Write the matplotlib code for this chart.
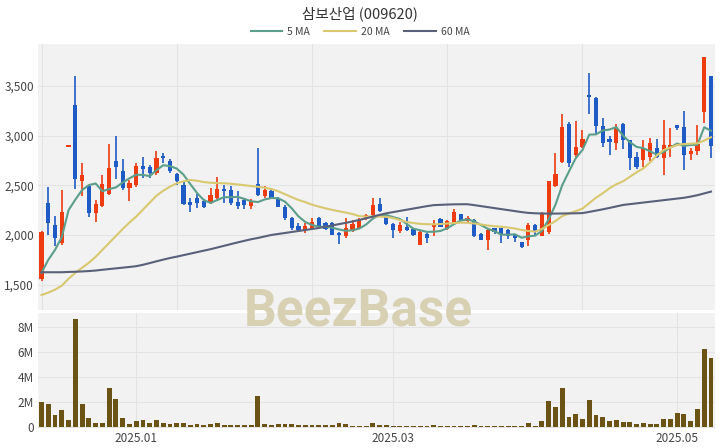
import numpy as np
import pandas as pd
import matplotlib
matplotlib.use("Agg")
import matplotlib.pyplot as plt
from matplotlib.ticker import FuncFormatter

plt.rcParams['font.family'] = ['Noto Sans CJK KR', 'DejaVu Sans']

title = "삼보산업 (009620)"

# 거래일 (KRX 휴장일 제외)
holidays = ["2024-12-25", "2024-12-31", "2025-01-01", "2025-01-27", "2025-01-28",
            "2025-01-29", "2025-01-30", "2025-03-03", "2025-05-01", "2025-05-05", "2025-05-06"]
dates = pd.bdate_range("2024-12-10", "2025-05-13")
dates = dates[~dates.isin(pd.to_datetime(holidays))]

opens = [1560, 2320, 2100, 1920, 2885, 3310, 2540, 2490, 2225, 2290,
         2410, 2740, 2640, 2470, 2500, 2690, 2680, 2620, 2790, 2740,
         2610, 2500, 2330, 2370, 2340, 2320, 2375, 2460, 2450, 2335,
         2350, 2290, 2510, 2390, 2440, 2370, 2285, 2175, 2090, 2050,
         2060, 2170, 2120, 2120, 2020, 1985, 2040, 2065, 2170, 2200,
         2310, 2190, 2115, 2035, 2080, 2060, 1900, 2010, 2085, 2165,
         2060, 2120, 2210, 2145, 2150, 2010, 1950, 2065, 2065, 2050,
         1995, 1925, 1950, 2100, 1990, 2034, 2493, 2738, 3117, 2805,
         2882, 3408, 3375, 3097, 2962, 2929, 3114, 2956, 2788, 2755,
         2782, 2872, 2772, 2882, 3107, 3090, 2815, 2848, 3240, 3600]
highs = [2040, 2480, 2190, 2450, 2900, 3600, 2720, 2500, 2350, 2600,
         2920, 3000, 2760, 2550, 2720, 2780, 2700, 2840, 2820, 2760,
         2620, 2540, 2370, 2410, 2360, 2470, 2580, 2500, 2490, 2440,
         2360, 2360, 2870, 2490, 2460, 2380, 2300, 2180, 2120, 2120,
         2170, 2180, 2130, 2130, 2030, 2170, 2150, 2170, 2210, 2370,
         2370, 2200, 2120, 2130, 2180, 2070, 2040, 2020, 2150, 2170,
         2150, 2260, 2215, 2190, 2165, 2020, 2060, 2070, 2070, 2060,
         2000, 1930, 2124, 2110, 2235, 2546, 2822, 3217, 3140, 3150,
         3056, 3627, 3391, 3174, 2996, 3117, 3124, 2960, 2830, 2956,
         2980, 2970, 3157, 3073, 3110, 3251, 2870, 3107, 3790, 3600]
lows = [1540, 2000, 1890, 1900, 2885, 2460, 2390, 2180, 2130, 2280,
        2400, 2560, 2450, 2340, 2480, 2570, 2570, 2600, 2720, 2620,
        2500, 2300, 2230, 2270, 2270, 2310, 2360, 2320, 2300, 2260,
        2260, 2260, 2390, 2370, 2360, 2280, 2150, 2050, 2030, 2020,
        2050, 2075, 2050, 1995, 1910, 1970, 2030, 2060, 2150, 2170,
        2230, 2100, 1967, 2020, 2040, 1990, 1895, 1920, 1990, 2080,
        2050, 2110, 2140, 2130, 1980, 1945, 1850, 2010, 1916, 1960,
        1930, 1870, 1889, 2000, 1985, 2010, 2486, 2720, 2687, 2782,
        2872, 3217, 3006, 2888, 2805, 2855, 2860, 2654, 2660, 2687,
        2740, 2772, 2604, 2788, 3060, 2654, 2750, 2805, 3130, 2772]
closes = [2030, 2120, 1970, 2230, 2900, 2560, 2600, 2220, 2310, 2510,
          2670, 2680, 2470, 2520, 2690, 2660, 2620, 2770, 2770, 2640,
          2540, 2310, 2300, 2320, 2280, 2400, 2460, 2440, 2320, 2295,
          2300, 2340, 2400, 2450, 2370, 2285, 2170, 2065, 2045, 2090,
          2130, 2085, 2060, 2000, 2000, 2065, 2110, 2150, 2200, 2300,
          2240, 2110, 2050, 2105, 2050, 2000, 2030, 1970, 2115, 2085,
          2140, 2235, 2150, 2175, 1985, 1950, 2050, 2030, 2000, 1985,
          1967, 1880, 2100, 2034, 2225, 2546, 2614, 3083, 2728, 2888,
          2962, 3385, 3097, 2922, 2938, 3083, 2956, 2772, 2681, 2872,
          2929, 2788, 2905, 2905, 3073, 2805, 2840, 2912, 3790, 2895]
volumes = [1.95, 1.84, 0.91, 1.34, 0.54, 8.59, 1.82, 0.67, 0.27, 0.32,
           3.07, 2.22, 0.67, 0.22, 0.48, 0.54, 0.27, 0.56, 0.27, 0.19,
           0.27, 0.32, 0.13, 0.22, 0.11, 0.24, 0.30, 0.16, 0.16, 0.15,
           0.14, 0.14, 2.48, 0.24, 0.13, 0.24, 0.24, 0.19, 0.12, 0.12,
           0.14, 0.12, 0.11, 0.13, 0.32, 0.19, 0.08, 0.06, 0.05, 0.32,
           0.11, 0.16, 0.08, 0.08, 0.08, 0.08, 0.04, 0.04, 0.16, 0.10,
           0.08, 0.08, 0.06, 0.05, 0.13, 0.10, 0.08, 0.05, 0.06, 0.08,
           0.08, 0.06, 0.30, 0.10, 0.43, 2.08, 1.55, 3.12, 0.75, 1.04,
           0.61, 2.16, 0.91, 0.75, 0.48, 0.51, 0.38, 0.38, 0.22, 0.32,
           0.22, 0.24, 0.59, 0.59, 1.07, 1.01, 0.43, 1.39, 6.20, 5.53]

# 차트 시작 이전 종가 (5일 이동평균 계산용)
prev_close = [1470, 1470, 1580, 1550]

ma20 = [1396, 1420, 1450, 1490, 1560, 1620, 1670, 1720, 1780, 1850,
        1920, 1990, 2060, 2125, 2185, 2255, 2325, 2395, 2445, 2486,
        2520, 2540, 2553, 2545, 2532, 2525, 2522, 2520, 2515, 2508,
        2500, 2492, 2485, 2475, 2462, 2440, 2410, 2380, 2352, 2330,
        2305, 2285, 2268, 2252, 2238, 2225, 2210, 2190, 2185, 2185,
        2185, 2182, 2170, 2150, 2130, 2120, 2112, 2108, 2107, 2110,
        2115, 2120, 2124, 2122, 2115, 2105, 2095, 2088, 2082, 2075,
        2065, 2050, 2040, 2034, 2060, 2100, 2140, 2190, 2215, 2240,
        2265, 2320, 2375, 2420, 2470, 2510, 2540, 2585, 2630, 2670,
        2730, 2800, 2855, 2880, 2905, 2915, 2918, 2922, 2950, 2983]
ma60 = [1625, 1625, 1625, 1625, 1628, 1630, 1633, 1637, 1642, 1650,
        1657, 1664, 1671, 1678, 1686, 1700, 1717, 1735, 1752, 1768,
        1782, 1797, 1812, 1827, 1842, 1857, 1874, 1891, 1908, 1925,
        1941, 1957, 1970, 1985, 2000, 2010, 2020, 2030, 2040, 2050,
        2060, 2070, 2083, 2096, 2109, 2122, 2136, 2151, 2168, 2185,
        2202, 2218, 2230, 2242, 2254, 2266, 2278, 2290, 2300, 2303,
        2306, 2308, 2309, 2309, 2300, 2290, 2280, 2270, 2260, 2250,
        2240, 2230, 2222, 2218, 2216, 2215, 2215, 2216, 2217, 2218,
        2220, 2232, 2245, 2258, 2272, 2287, 2302, 2310, 2318, 2326,
        2334, 2342, 2350, 2358, 2366, 2374, 2386, 2400, 2418, 2436]

o = np.array(opens)
h = np.array(highs)
l = np.array(lows)
c = np.array(closes)
n = len(c)
x = np.arange(n)
ma5 = pd.Series(prev_close + closes).rolling(5).mean().iloc[len(prev_close):].values

red = "#ee3b10"
blue = "#1f5bc4"
col = np.where(c >= o, red, blue)
bg = "#f2f2f2"
grid_c = "#e3e3e3"
txt_c = "#444444"

fig = plt.figure(figsize=(7.2, 4.48), dpi=100, facecolor="white")
ax = fig.add_axes([0.0528, 0.3080, 0.9403, 0.5938])
axv = fig.add_axes([0.0528, 0.0446, 0.9403, 0.2567])

# 캔들
ax.vlines(x, l, h, color=col, lw=1.2, zorder=2)
body_low = np.minimum(o, c)
body_h = np.maximum(np.abs(c - o), 10)
ax.bar(x, body_h, bottom=body_low, width=0.62, color=col, linewidth=0, zorder=2)

l5, = ax.plot(x, ma5, color="#5b9e8b", lw=1.5, zorder=3)
l20, = ax.plot(x, ma20, color="#d8c870", lw=1.5, zorder=3)
l60, = ax.plot(x, ma60, color="#596079", lw=1.5, zorder=3)

ax.set_xlim(-0.52, 99.6)
ax.set_ylim(1245, 3921)
ax.set_yticks([1500, 2000, 2500, 3000, 3500])
ax.yaxis.set_major_formatter(FuncFormatter(lambda v, p: f"{v:,.0f}"))
ax.set_xticks(range(0, n, 20))
ax.set_xticklabels([])

# 거래량
axv.bar(x, np.array(volumes) * 1e6, width=0.72, color="#6b5316", linewidth=0, zorder=2)
axv.set_xlim(-0.52, 99.6)
axv.set_ylim(-0.1e6, 9.1e6)
axv.set_yticks([0, 2e6, 4e6, 6e6, 8e6])
axv.yaxis.set_major_formatter(FuncFormatter(lambda v, p: "0" if v == 0 else f"{v/1e6:.0f}M"))
month_idx = [i for i in range(1, n) if dates[i].month != dates[i - 1].month and dates[i].month in (1, 3, 5)]
axv.set_xticks(month_idx)
axv.set_xticklabels([dates[i].strftime("%Y.%m") for i in month_idx])

for a in (ax, axv):
    a.set_facecolor(bg)
    for s in a.spines.values():
        s.set_visible(False)
    a.grid(True, color=grid_c, lw=0.8, zorder=0)
    a.set_axisbelow(True)
    a.tick_params(length=0, labelsize=8.5, labelcolor=txt_c, pad=3)

fig.text(0.5, 1 - 14 / 448, title, ha="center", va="center", fontsize=10.5, color="#333333")
fig.legend([l5, l20, l60], ["5 MA", "20 MA", "60 MA"], loc="center", bbox_to_anchor=(0.5, 1 - 32 / 448),
           ncol=3, frameon=False, fontsize=7.5, handlelength=3, columnspacing=1.4, handletextpad=0.5,
           labelcolor="#444444")

# 워터마크
fig.text(0.497, 1 - 311 / 448, "BeezBase", ha="center", va="center", fontsize=37,
         fontweight="bold", color="#d8d0b2", family="Roboto", zorder=10)

fig.savefig("out.png", dpi=100, facecolor="white")
